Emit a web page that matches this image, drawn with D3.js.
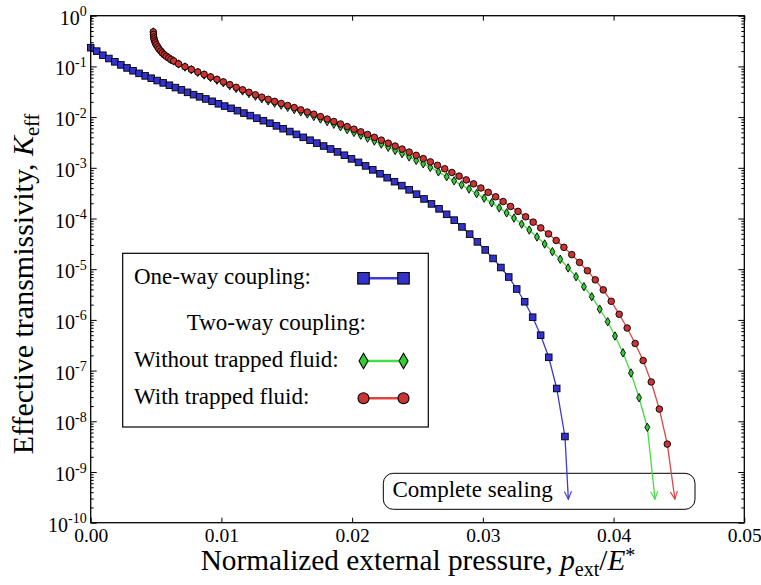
<!DOCTYPE html>
<html>
<head>
<meta charset="utf-8">
<script src="https://cdn.jsdelivr.net/npm/d3@7"></script>
<style>
  body { margin: 0; background: #fff; }
  svg { display: block; }
  text { font-family: "Liberation Serif", "Times New Roman", serif; fill: #000; }
</style>
</head>
<body>
<svg id="chart" width="761" height="585"></svg>
<script>
// Normalized external pressure p_ext/E* for each computed step
const oneWayP = [0, 0.00046, 0.00093, 0.00139, 0.00185, 0.00231, 0.00278, 0.00324, 0.00370, 0.00417,
  0.00463, 0.00509, 0.00555, 0.00602, 0.00648, 0.00694, 0.00741, 0.00787, 0.00833, 0.00881,
  0.00929, 0.00977, 0.01025, 0.01074, 0.01123, 0.01172, 0.01221, 0.01271, 0.01321, 0.01371,
  0.01421, 0.01472, 0.01523, 0.01574, 0.01626, 0.01678, 0.01730, 0.01782, 0.01835, 0.01888,
  0.01941, 0.01995, 0.02049, 0.02103, 0.02158, 0.02213, 0.02268, 0.02324, 0.02380, 0.02436,
  0.02493, 0.02550, 0.02607, 0.02665, 0.02723, 0.02781, 0.02840, 0.02899, 0.02958, 0.03018,
  0.03078, 0.03138, 0.03198, 0.03259, 0.03320, 0.03381, 0.03442, 0.03504, 0.03565, 0.03628];
// Effective transmissivity K_eff, one-way coupling
const oneWayK = [0.234, 0.200, 0.166, 0.143, 0.123, 0.107, 0.0933, 0.0820, 0.0729, 0.0650,
  0.0585, 0.0526, 0.0473, 0.0425, 0.0382, 0.0344, 0.0308, 0.0277, 0.0251, 0.0228,
  0.0205, 0.0183, 0.0165, 0.0149, 0.0134, 0.0120, 0.0107, 0.00953, 0.00849, 0.00757,
  0.00671, 0.00590, 0.00519, 0.00456, 0.00399, 0.00350, 0.00307, 0.00269, 0.00235, 0.00206,
  0.00177, 0.00150, 0.00128, 0.00109, 9.10e-4, 7.62e-4, 6.38e-4, 5.32e-4, 4.45e-4, 3.68e-4,
  3.02e-4, 2.43e-4, 1.94e-4, 1.55e-4, 1.21e-4, 9.29e-5, 6.82e-5, 4.92e-5, 3.46e-5, 2.40e-5,
  1.63e-5, 1.08e-5, 7.01e-6, 4.07e-6, 2.28e-6, 1.13e-6, 4.99e-7, 1.83e-7, 4.44e-8, 5.01e-9];

// Two-way coupling, without trapped fluid
const noTrapP = [0.00479, 0.00480, 0.00482, 0.00484, 0.00490, 0.00494, 0.00502, 0.00513, 0.00522, 0.00536,
  0.00548, 0.00563, 0.00578, 0.00597, 0.00614, 0.00635, 0.00672, 0.00721, 0.00770, 0.00819,
  0.00868, 0.00917, 0.00966, 0.01015, 0.01064, 0.01113, 0.01162, 0.01211, 0.01260, 0.01309,
  0.01358, 0.01407, 0.01457, 0.01507, 0.01557, 0.01607, 0.01657, 0.01707, 0.01758, 0.01809,
  0.01860, 0.01911, 0.01962, 0.02014, 0.02066, 0.02118, 0.02170, 0.02223, 0.02276, 0.02329,
  0.02382, 0.02436, 0.02490, 0.02544, 0.02598, 0.02660, 0.02723, 0.02780, 0.02837, 0.02894,
  0.02952, 0.03010, 0.03068, 0.03125, 0.03182, 0.03238, 0.03297, 0.03355, 0.03414, 0.03473,
  0.03532, 0.03592, 0.03652, 0.03713, 0.03773, 0.03833, 0.03894, 0.03955, 0.04011, 0.04072,
  0.04133, 0.04195, 0.04258];
const noTrapK = [0.478, 0.426, 0.380, 0.347, 0.317, 0.291, 0.266, 0.242, 0.220, 0.201,
  0.184, 0.170, 0.158, 0.147, 0.136, 0.128, 0.112, 0.0973, 0.0859, 0.0762,
  0.0678, 0.0603, 0.0536, 0.0476, 0.0418, 0.0368, 0.0328, 0.0292, 0.0259, 0.0231,
  0.0209, 0.0189, 0.0172, 0.0156, 0.0141, 0.0127, 0.0115, 0.0103, 0.00916, 0.00815,
  0.00724, 0.00643, 0.00568, 0.00499, 0.00440, 0.00385, 0.00337, 0.00294, 0.00254, 0.00220,
  0.00191, 0.00164, 0.00140, 0.00120, 0.00102, 8.32e-4, 6.67e-4, 5.53e-4, 4.60e-4, 3.82e-4,
  3.10e-4, 2.52e-4, 2.04e-4, 1.62e-4, 1.29e-4, 1.02e-4, 7.76e-5, 5.93e-5, 4.32e-5, 3.14e-5,
  2.22e-5, 1.57e-5, 1.06e-5, 7.11e-6, 4.52e-6, 2.87e-6, 1.63e-6, 9.20e-7, 4.81e-7, 2.24e-7,
  8.97e-8, 2.92e-8, 7.62e-9];

// Two-way coupling, with trapped fluid
const trapP = [0.00479, 0.00480, 0.00482, 0.00484, 0.00490, 0.00494, 0.00502, 0.00513, 0.00522, 0.00536,
  0.00548, 0.00563, 0.00578, 0.00597, 0.00614, 0.00635, 0.00672, 0.00721, 0.00770, 0.00819,
  0.00868, 0.00917, 0.00966, 0.01015, 0.01064, 0.01113, 0.01162, 0.01211, 0.01260, 0.01309,
  0.01358, 0.01407, 0.01457, 0.01507, 0.01557, 0.01607, 0.01657, 0.01707, 0.01758, 0.01809,
  0.01860, 0.01911, 0.01962, 0.02014, 0.02066, 0.02118, 0.02170, 0.02223, 0.02276, 0.02329,
  0.02382, 0.02436, 0.02490, 0.02544, 0.02598, 0.02653, 0.02708, 0.02763, 0.02818, 0.02873,
  0.02929, 0.02985, 0.03041, 0.03098, 0.03155, 0.03212, 0.03269, 0.03327, 0.03385, 0.03443,
  0.03502, 0.03561, 0.03620, 0.03680, 0.03740, 0.03800, 0.03860, 0.03921, 0.03982, 0.04043,
  0.04104, 0.04165, 0.04226, 0.04288, 0.04350, 0.04411];
const trapK = [0.478, 0.426, 0.380, 0.347, 0.317, 0.291, 0.266, 0.242, 0.220, 0.201,
  0.184, 0.170, 0.158, 0.147, 0.136, 0.128, 0.112, 0.0984, 0.0873, 0.0778,
  0.0695, 0.0621, 0.0555, 0.0495, 0.0437, 0.0386, 0.0345, 0.0308, 0.0275, 0.0247,
  0.0224, 0.0204, 0.0186, 0.0169, 0.0154, 0.0139, 0.0126, 0.0114, 0.0102, 0.00914,
  0.00818, 0.00731, 0.00650, 0.00577, 0.00512, 0.00453, 0.00399, 0.00351, 0.00306, 0.00268,
  0.00234, 0.00204, 0.00176, 0.00152, 0.00131, 0.00112, 9.55e-4, 8.09e-4, 6.85e-4, 5.77e-4,
  4.82e-4, 4.00e-4, 3.28e-4, 2.68e-4, 2.16e-4, 1.73e-4, 1.38e-4, 1.08e-4, 8.47e-5, 6.52e-5,
  4.97e-5, 3.68e-5, 2.70e-5, 1.94e-5, 1.36e-5, 9.33e-6, 6.17e-6, 3.91e-6, 2.33e-6, 1.29e-6,
  6.92e-7, 3.43e-7, 1.58e-7, 5.97e-8, 1.74e-8, 3.55e-9];

// Pressure at which each case seals completely (arrow targets)
const sealingP = [0.03654, 0.04317, 0.04469];
const sealingArrowK = 2.9e-10;

const xTicks = [0, 0.01, 0.02, 0.03, 0.04, 0.05];
const yExponents = [0, -1, -2, -3, -4, -5, -6, -7, -8, -9, -10];

const legendLabels = ["One-way coupling:", "Two-way coupling:", "Without trapped fluid:", "With trapped fluid:"];
const sealingLabel = "Complete sealing";

// ---------------------------------------------------------------
const svg = d3.select("#chart");
const plot = { left: 90.7, right: 744.3, top: 15.7, bottom: 522.7 };

const x = d3.scaleLinear().domain([0, 0.05]).range([plot.left, plot.right]);
const y = d3.scaleLog().domain([1e-10, 1]).range([plot.bottom, plot.top]);

const series = [
  { p: oneWayP, k: oneWayK, line: "#3a3ad6", fill: "#3333cc", marker: "square", size: 6.6, seal: sealingP[0] },
  { p: noTrapP, k: noTrapK, line: "#44dd44", fill: "#33cc33", marker: "diamond", size: 6.8, seal: sealingP[1] },
  { p: trapP,   k: trapK,   line: "#dd4444", fill: "#cc3333", marker: "circle", size: 6.6, seal: sealingP[2] }
];

// arrowheads
const defs = svg.append("defs");
series.forEach((s, i) => {
  defs.append("marker")
    .attr("id", "arrow" + i)
    .attr("viewBox", "0 0 10 10")
    .attr("refX", 10).attr("refY", 5)
    .attr("markerWidth", 9).attr("markerHeight", 8)
    .attr("markerUnits", "userSpaceOnUse")
    .attr("orient", "auto")
    .append("path")
    .attr("d", "M0,0.5 L10,5 L0,9.5")
    .attr("fill", "none")
    .attr("stroke", s.line)
    .attr("stroke-width", 1.4);
});

function drawMarker(g, type, cx, cy, size, fill, sw) {
  if (type === "square") {
    g.append("rect").attr("x", cx - size / 2).attr("y", cy - size / 2)
      .attr("width", size).attr("height", size)
      .attr("fill", fill).attr("stroke", "#000").attr("stroke-width", sw);
  } else if (type === "diamond") {
    const w = size * 0.36, h = size * 0.62;
    g.append("path")
      .attr("d", `M${cx},${cy - h} L${cx + w},${cy} L${cx},${cy + h} L${cx - w},${cy} Z`)
      .attr("fill", fill).attr("stroke", "#000").attr("stroke-width", sw);
  } else {
    g.append("circle").attr("cx", cx).attr("cy", cy).attr("r", size / 2)
      .attr("fill", fill).attr("stroke", "#000").attr("stroke-width", sw);
  }
}

// "Complete sealing" annotation box (behind the arrows)
const sealBox = svg.append("g");
sealBox.append("rect")
  .attr("x", 383.3).attr("y", 473.3).attr("width", 311.7).attr("height", 36)
  .attr("rx", 10).attr("ry", 10)
  .attr("fill", "#fff").attr("stroke", "#000").attr("stroke-width", 1);
sealBox.append("text").attr("x", 392.5).attr("y", 497.3)
  .style("font-size", "23px").text(sealingLabel);

// curves, arrows and markers
const line = d3.line().x(d => x(d[0])).y(d => y(d[1]));
series.forEach((s, i) => {
  const pts = s.p.map((p, j) => [p, s.k[j]]);
  const g = svg.append("g");
  g.append("path").attr("d", line(pts))
    .attr("fill", "none").attr("stroke", s.line).attr("stroke-width", 1.3);
  const last = pts[pts.length - 1];
  g.append("path").attr("d", line([last, [s.seal, sealingArrowK]]))
    .attr("fill", "none").attr("stroke", s.line).attr("stroke-width", 1.3)
    .attr("marker-end", `url(#arrow${i})`);
  pts.forEach(d => drawMarker(g, s.marker, x(d[0]), y(d[1]), s.size, s.fill, 0.9));
});

// axes: ticks point inward on all four sides
const decades = yExponents.map(e => Math.pow(10, e));
const minor = [];
yExponents.slice(0, -1).forEach(e => { for (let m = 2; m <= 9; m++) minor.push(m * Math.pow(10, e - 1)); });

const axisStyle = g => { g.select(".domain").remove(); g.selectAll("line").attr("stroke", "#000").attr("stroke-width", 1); };

svg.append("g").attr("transform", `translate(0,${plot.bottom})`)
  .call(d3.axisBottom(x).tickValues(xTicks).tickFormat(d3.format(".2f"))
    .tickSizeInner(-5).tickSizeOuter(0).tickPadding(5.5))
  .call(axisStyle)
  .call(g => g.selectAll("text").style("font-size", "19.5px").attr("font-family", null));

svg.append("g").attr("transform", `translate(0,${plot.top})`)
  .call(d3.axisTop(x).tickValues(xTicks).tickFormat("").tickSizeInner(-5).tickSizeOuter(0))
  .call(axisStyle);

const yLeft = svg.append("g").attr("transform", `translate(${plot.left},0)`)
  .call(d3.axisLeft(y).tickValues(decades).tickSizeInner(-6).tickSizeOuter(0).tickPadding(5))
  .call(axisStyle);
yLeft.selectAll(".tick text").each(function (d) {
  const t = d3.select(this).text(null).attr("dy", null).attr("y", 8.5).attr("x", -4)
    .attr("text-anchor", "end").attr("font-family", null).attr("font-size", null);
  t.append("tspan").style("font-size", "20px").text("10");
  t.append("tspan").attr("dy", -8.5).style("font-size", "14px").text(Math.round(Math.log10(d)));
});

svg.append("g").attr("transform", `translate(${plot.left},0)`)
  .call(d3.axisLeft(y).tickValues(minor).tickFormat("").tickSizeInner(-3).tickSizeOuter(0))
  .call(axisStyle);
svg.append("g").attr("transform", `translate(${plot.right},0)`)
  .call(d3.axisRight(y).tickValues(decades).tickFormat("").tickSizeInner(-6).tickSizeOuter(0))
  .call(axisStyle);
svg.append("g").attr("transform", `translate(${plot.right},0)`)
  .call(d3.axisRight(y).tickValues(minor).tickFormat("").tickSizeInner(-3).tickSizeOuter(0))
  .call(axisStyle);

// frame
svg.append("rect")
  .attr("x", plot.left).attr("y", plot.top)
  .attr("width", plot.right - plot.left).attr("height", plot.bottom - plot.top)
  .attr("fill", "none").attr("stroke", "#000").attr("stroke-width", 1.3);

// legend
const lg = svg.append("g");
lg.append("rect").attr("x", 122.7).attr("y", 253.3).attr("width", 305.6).attr("height", 173.7)
  .attr("fill", "#fff").attr("stroke", "#000").attr("stroke-width", 1.2);
const legendRows = [
  { label: legendLabels[0], tx: 134, base: 283.5, s: series[0], my: 278.3, size: 11.5 },
  { label: legendLabels[1], tx: 186.7, base: 329.5, s: null },
  { label: legendLabels[2], tx: 134, base: 367, s: series[1], my: 361, size: 12.5 },
  { label: legendLabels[3], tx: 134, base: 404, s: series[2], my: 398.3, size: 11 }
];
legendRows.forEach(r => {
  lg.append("text").attr("x", r.tx).attr("y", r.base).style("font-size", "23px").text(r.label);
  if (r.s) {
    lg.append("line").attr("x1", 363.5).attr("x2", 403.5).attr("y1", r.my).attr("y2", r.my)
      .attr("stroke", r.s.line).attr("stroke-width", 2.6);
    drawMarker(lg, r.s.marker, 363.5, r.my, r.size, r.s.fill, 1.1);
    drawMarker(lg, r.s.marker, 403.5, r.my, r.size, r.s.fill, 1.1);
  }
});

// axis titles
const xt = svg.append("text").attr("x", 418).attr("y", 570).attr("text-anchor", "middle")
  .style("font-size", "29.3px");
xt.append("tspan").text("Normalized external pressure, ");
xt.append("tspan").style("font-style", "italic").text("p");
xt.append("tspan").attr("dy", 6).style("font-size", "20px").text("ext");
xt.append("tspan").attr("dy", -6).text("/");
xt.append("tspan").style("font-style", "italic").text("E");
xt.append("tspan").attr("dy", -8).style("font-size", "20px").text("*");

const yt = svg.append("text").attr("transform", "translate(33,284) rotate(-90)")
  .attr("text-anchor", "middle").style("font-size", "30px");
yt.append("tspan").text("Effective transmissivity, ");
yt.append("tspan").style("font-style", "italic").text("K");
yt.append("tspan").attr("dy", 6).style("font-size", "20.5px").text("eff");
</script>
</body>
</html>
